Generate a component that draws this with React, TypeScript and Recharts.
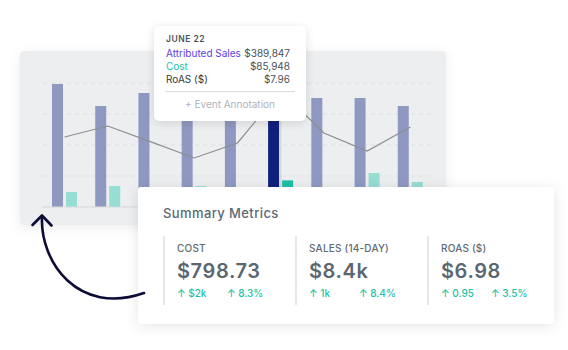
import React from 'react';
import { ComposedChart, Bar, Line, XAxis, YAxis, CartesianGrid, Cell, ReferenceLine } from 'recharts';

const dates = ['June 17', 'June 18', 'June 19', 'June 20', 'June 21', 'June 22', 'June 23', 'June 24', 'June 25'];
const sales = [396800, 325800, 367700, 330000, 345000, 389847, 351600, 351600, 325800];
const cost = [48400, 67700, 55000, 67700, 50000, 85948, 55000, 109700, 80600];
const roas = [4.8, 5.55, 4.46, 3.36, 4.39, 7.96, 5.07, 3.84, 5.48];
const salesTicks = [0, 100000, 200000, 300000, 400000];
const activeIndex = 5;

const metricLabels = ['COST', 'SALES (14-DAY)', 'ROAS ($)'];
const metricValues = ['$798.73', '$8.4k', '$6.98'];
const metricDeltas = ['$2k', '1k', '0.95'];
const metricPcts = ['8.3%', '8.4%', '3.5%'];

const data = dates.map((d, i) => ({ date: d, sales: sales[i], cost: cost[i], roas: roas[i] }));

const FONT = 'Inter, "Open Sans", sans-serif';
const TEAL = '#1cc3a5';
const money = (v: number) => '$' + v.toLocaleString('en-US');

export default function App() {
  const W = 568;
  const H = 350;
  return (
    <div style={{ position: 'fixed', left: 0, top: 0, width: W, height: H, background: '#fff', overflow: 'hidden', fontFamily: FONT }}>
      {/* chart panel */}
      <div style={{ position: 'absolute', left: 20, top: 51, width: 426, height: 174, background: '#edeef0', borderRadius: 4, boxShadow: '0 3px 14px rgba(0,0,0,0.07)' }} />
      <div style={{ position: 'absolute', left: 0, top: 0 }}>
        <ComposedChart width={W} height={H} data={data} margin={{ top: 83, left: 43, right: 136, bottom: 143 }} barSize={11} barGap={3}>
          <CartesianGrid vertical={false} horizontal stroke="#dcdfe3" strokeDasharray="4 4" />
          <XAxis dataKey="date" hide />
          <YAxis domain={[0, 400000]} ticks={salesTicks} hide />
          <YAxis yAxisId="roas" domain={[0, 8.5]} hide orientation="right" />
          <ReferenceLine y={0} stroke="#d9dce0" strokeWidth={1} />
          <ReferenceLine x={dates[activeIndex]} stroke="#d3d8dd" strokeWidth={1.5} />
          <Bar dataKey="sales" isAnimationActive={false}>
            {data.map((_, i) => (
              <Cell key={i} fill={i === activeIndex ? '#10207d' : '#8f98c1'} />
            ))}
          </Bar>
          <Bar dataKey="cost" isAnimationActive={false}>
            {data.map((_, i) => (
              <Cell key={i} fill={i === activeIndex ? '#1ebfa6' : '#96ddd3'} />
            ))}
          </Bar>
          <Line yAxisId="roas" dataKey="roas" type="linear" stroke="#8b8e94" strokeWidth={1.2} dot={false} activeDot={false} isAnimationActive={false} />
        </ComposedChart>
      </div>

      {/* tooltip */}
      <div style={{ position: 'absolute', left: 154, top: 26, width: 152, height: 95, background: '#fff', borderRadius: 5, boxShadow: '0 2px 10px rgba(0,0,0,0.12)' }}>
        <div style={{ position: 'absolute', left: 12, top: 8, lineHeight: '11px', fontSize: 8.5, fontWeight: 600, letterSpacing: 0.5, color: '#4d5359' }}>
          {dates[activeIndex].toUpperCase()}
        </div>
        {[
          { label: 'Attributed Sales', value: money(sales[activeIndex]), color: '#5a3ee0' },
          { label: 'Cost', value: money(cost[activeIndex]), color: TEAL },
          { label: 'RoAS ($)', value: '$' + roas[activeIndex].toFixed(2), color: '#33383d' },
        ].map((r, i) => (
          <div key={i} style={{ position: 'absolute', left: 12, right: 16, top: 21 + i * 13, height: 13, lineHeight: '13px', fontSize: 10, display: 'flex', justifyContent: 'space-between' }}>
            <span style={{ color: r.color }}>{r.label}</span>
            <span style={{ color: '#4a5056' }}>{r.value}</span>
          </div>
        ))}
        <div style={{ position: 'absolute', left: 11, width: 130, top: 64.5, height: 1, background: '#d8dde2' }} />
        <div style={{ position: 'absolute', left: 0, width: 152, top: 72, lineHeight: '13px', fontSize: 10, textAlign: 'center', color: '#adb3b9' }}>
          + Event Annotation
        </div>
      </div>

      {/* summary card */}
      <div style={{ position: 'absolute', left: 138, top: 187, width: 416, height: 137, background: '#fff', borderRadius: 3, boxShadow: '0 2px 14px rgba(0,0,0,0.10)' }}>
        <div style={{ position: 'absolute', left: 25, top: 18, lineHeight: '16px', fontSize: 13, fontWeight: 500, letterSpacing: 0.4, color: '#5b6872' }}>
          Summary Metrics
        </div>
        {metricLabels.map((lab, i) => (
          <div key={i} style={{ position: 'absolute', left: 25 + i * 132, top: 49, width: 110, height: 69, borderLeft: '2px solid #e6e9ec' }}>
            <div style={{ position: 'absolute', left: 12, top: 6, lineHeight: '12px', fontSize: 10, fontWeight: 500, letterSpacing: 0.2, color: '#5d6a74', whiteSpace: 'nowrap' }}>{lab}</div>
            <div style={{ position: 'absolute', left: 12, top: 22.5, lineHeight: '24px', fontSize: 20, fontWeight: 600, letterSpacing: 0.6, color: '#5b6770', whiteSpace: 'nowrap' }}>{metricValues[i]}</div>
            <div style={{ position: 'absolute', left: 12, top: 51, lineHeight: '12px', fontSize: 10, fontWeight: 500, color: TEAL, whiteSpace: 'nowrap' }}>{'↑ ' + metricDeltas[i]}</div>
            <div style={{ position: 'absolute', left: 62, top: 51, lineHeight: '12px', fontSize: 10, fontWeight: 500, color: TEAL, whiteSpace: 'nowrap' }}>{'↑ ' + metricPcts[i]}</div>
          </div>
        ))}
      </div>

      {/* curved arrow */}
      <svg width={W} height={H} style={{ position: 'absolute', left: 0, top: 0, pointerEvents: 'none' }}>
        <path d="M 42 217 C 40 262, 78 316, 144 293" fill="none" stroke="#0c0c36" strokeWidth={2.6} strokeLinecap="round" />
        <path d="M 32.5 225 L 42 215.5 L 51.5 225.5" fill="none" stroke="#0c0c36" strokeWidth={2.6} strokeLinecap="round" strokeLinejoin="round" />
      </svg>
    </div>
  );
}
